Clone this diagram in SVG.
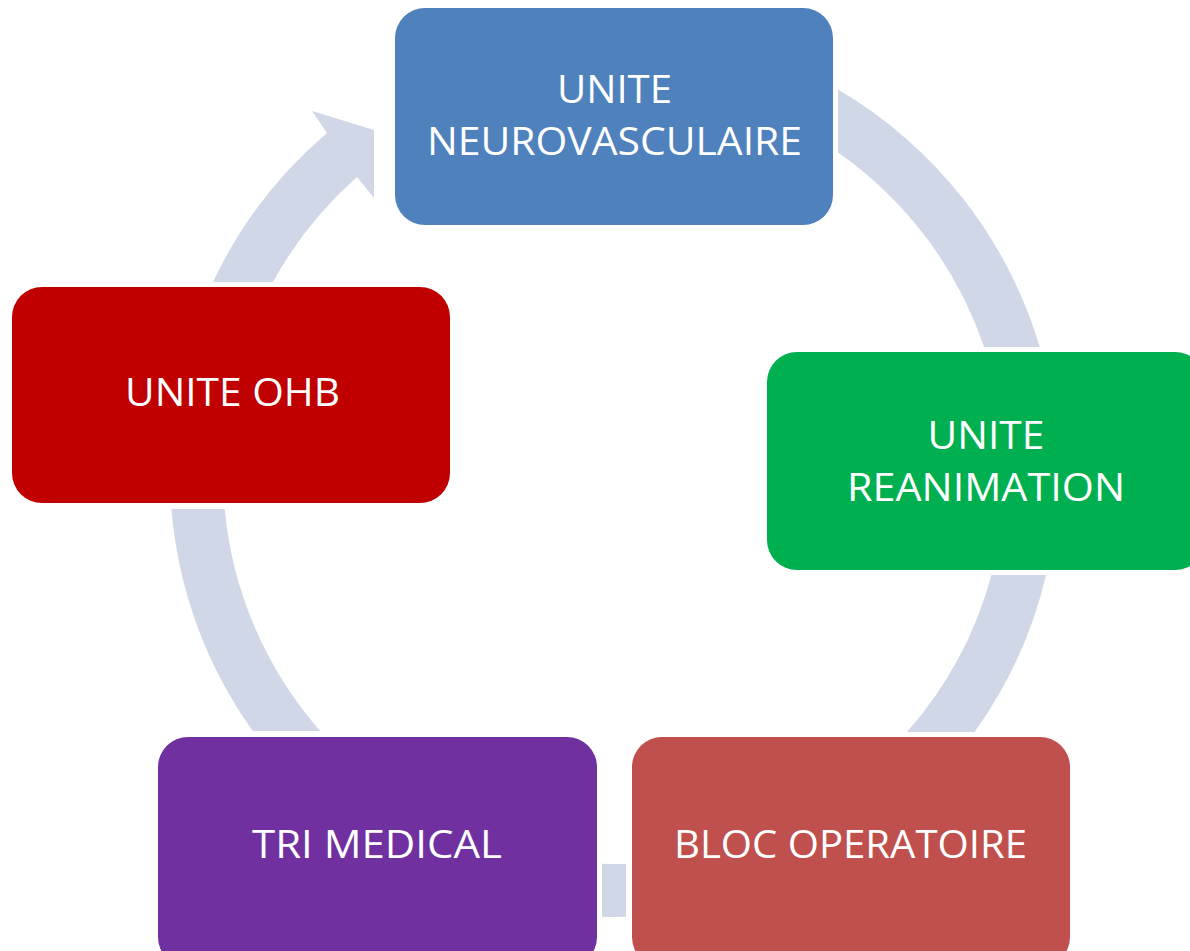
<svg xmlns="http://www.w3.org/2000/svg" width="1190" height="951" viewBox="0 0 1190 951">
<style>
.arc{fill:#D0D8E8;stroke:none}
.lbl{font-family:"Open Sans","Noto Sans","Liberation Sans",sans-serif;font-size:38px;fill:#FFFFFF;text-anchor:middle}
</style>
<rect width="1190" height="951" fill="#FFFFFF"/>
<g id="connectors">
  <path class="arc" d="M838,89.6 A444,444 0 0 1 1039.7,347 L984.1,347 A391,391 0 0 0 838,152.5 Z"/>
  <path class="arc" d="M1046.1,575 A444,444 0 0 1 974.6,732 L906.9,732 A391,391 0 0 0 991.5,575 Z"/>
  <path class="arc" d="M602,863.8 A391,391 0 0 0 626,863.8 L626,916.8 A444,444 0 0 1 602,916.8 Z"/>
  <path class="arc" d="M171.5,509 A444,444 0 0 0 252.7,731 L320.2,731 A391,391 0 0 1 224.7,509 Z"/>
  <path class="arc" d="M213,282 A444,444 0 0 1 327,133 L312,111 L374,130 L374,198 L357,177 A391,391 0 0 0 273,282 Z"/>
</g>
<g id="node-neuro">
  <rect x="395" y="8" width="438" height="217" rx="30" fill="#4F81BD"/>
  <text class="lbl" x="614.5" y="103" textLength="115" lengthAdjust="spacingAndGlyphs">UNITE</text>
  <text class="lbl" x="614.5" y="155" textLength="375" lengthAdjust="spacingAndGlyphs">NEUROVASCULAIRE</text>
</g>
<g id="node-rea">
  <rect x="767" y="352" width="438" height="218" rx="30" fill="#00B050"/>
  <text class="lbl" x="986" y="449" textLength="117" lengthAdjust="spacingAndGlyphs">UNITE</text>
  <text class="lbl" x="986" y="501" textLength="278" lengthAdjust="spacingAndGlyphs">REANIMATION</text>
</g>
<g id="node-bloc">
  <rect x="632" y="737" width="438" height="230" rx="30" fill="#C0504D"/>
  <text class="lbl" x="850.5" y="858" textLength="353" lengthAdjust="spacingAndGlyphs">BLOC OPERATOIRE</text>
</g>
<g id="node-tri">
  <rect x="158" y="737" width="439" height="230" rx="30" fill="#7030A0"/>
  <text class="lbl" x="377" y="858" textLength="250" lengthAdjust="spacingAndGlyphs">TRI MEDICAL</text>
</g>
<g id="node-ohb">
  <rect x="12" y="287" width="438" height="216" rx="30" fill="#C00000"/>
  <text class="lbl" x="232.5" y="406" textLength="215" lengthAdjust="spacingAndGlyphs">UNITE OHB</text>
</g>
</svg>
